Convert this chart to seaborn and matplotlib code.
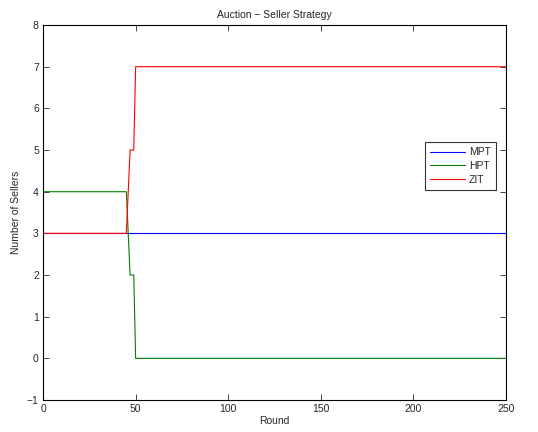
import matplotlib
matplotlib.use("Agg")
import matplotlib.pyplot as plt
import seaborn as sns
import pandas as pd

# Change-point representation of the step series
rounds = [0, 45, 47, 49, 50, 250]
mpt = [3, 3, 3, 3, 3, 3]
hpt = [4, 4, 2, 2, 0, 0]
zit = [3, 3, 5, 5, 7, 7]
series_names = ["MPT", "HPT", "ZIT"]
series_colors = ["#0000ff", "#008000", "#ff0000"]

sns.set_style("white")
plt.rcParams["font.family"] = ["Liberation Sans", "DejaVu Sans"]
plt.rcParams["axes.unicode_minus"] = True

df = pd.concat([
    pd.DataFrame({"Round": rounds, "Number of Sellers": vals, "Strategy": name})
    for name, vals in zip(series_names, [mpt, hpt, zit])
])

fig = plt.figure(figsize=(5.38, 4.32), dpi=100)
ax = fig.add_axes([0.080, 0.074, 0.8605, 0.868])
sns.lineplot(data=df, x="Round", y="Number of Sellers", hue="Strategy",
             palette=dict(zip(series_names, series_colors)),
             hue_order=series_names, linewidth=0.8, ax=ax, legend=True,
             estimator=None, sort=False)

ax.set_xlim(0, 250)
ax.set_ylim(-1, 8)
ax.set_xticks([0, 50, 100, 150, 200, 250])
ax.set_yticks(list(range(-1, 9)))
ax.tick_params(direction="in", length=4, width=0.6, labelsize=7.5,
               top=True, right=True, bottom=True, left=True, pad=3)
for s in ax.spines.values():
    s.set_linewidth(0.8)
    s.set_color("black")
ax.set_xlabel("Round", fontsize=7.5, labelpad=1)
ax.set_ylabel("Number of Sellers", fontsize=7.5, labelpad=4)
ax.set_title("Auction \u2212 Seller Strategy", fontsize=7.5, pad=5)

leg = ax.legend(loc="upper right", bbox_to_anchor=(0.978, 0.688),
                borderaxespad=0, fontsize=7.5, frameon=True, fancybox=False,
                handlelength=3.3, handletextpad=0.4, labelspacing=0.35,
                borderpad=0.5)
leg.get_frame().set_edgecolor("black")
leg.get_frame().set_linewidth(0.8)

fig.savefig("out.png", dpi=100)
